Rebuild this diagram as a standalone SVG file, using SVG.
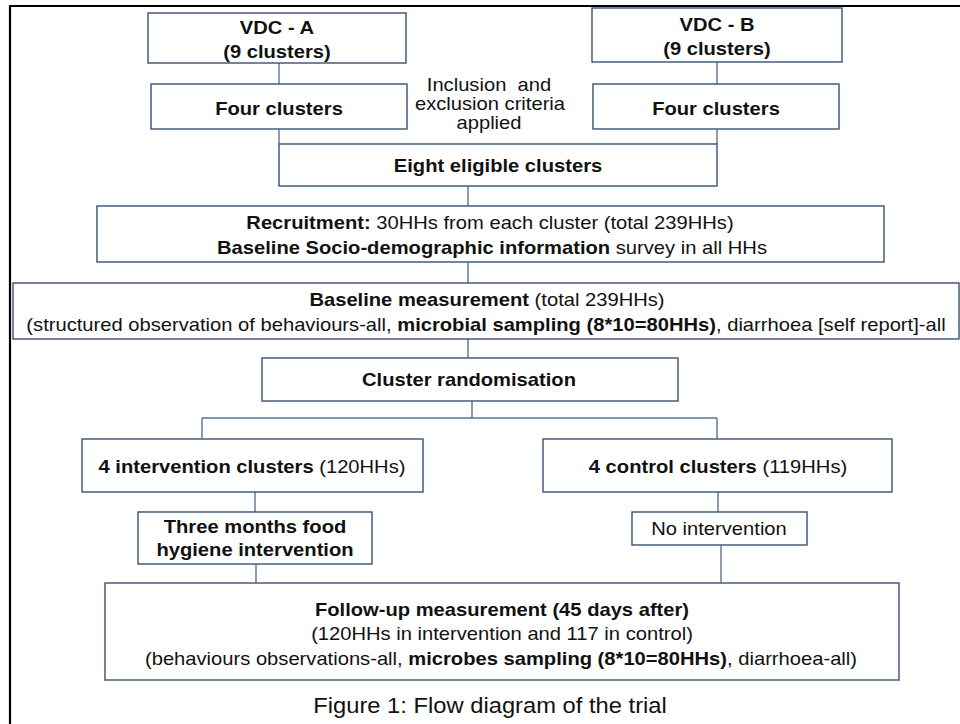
<svg xmlns="http://www.w3.org/2000/svg" width="960" height="724" viewBox="0 0 960 724">
<style>
  text { font-family: "Liberation Sans", Arial, sans-serif; font-size: 18px; fill: #111; text-anchor: middle; }
  .b { font-weight: bold; }
  .box { fill: #fff; stroke: #3a5074; stroke-width: 1.4; }
  .con { fill: none; stroke: #5d7294; stroke-width: 1.4; }
  .frame { fill: none; stroke: #000; stroke-width: 2.2; }
</style>
<rect x="0" y="0" width="960" height="724" fill="#fff"/>
<path class="frame" d="M10,724 V6 H960"/>
<g id="connectors">
  <path class="con" d="M279,63 V84"/>
  <path class="con" d="M717,62 V84"/>
  <path class="con" d="M279,129 V144"/>
  <path class="con" d="M717,129 V144"/>
  <path class="con" d="M468,186 V206"/>
  <path class="con" d="M468,262 V283"/>
  <path class="con" d="M468,339 V358"/>
  <path class="con" d="M472,401 V418 M202,418 H717 M202,418 V439 M717,418 V439"/>
  <path class="con" d="M255,492 V512"/>
  <path class="con" d="M718,492 V512"/>
  <path class="con" d="M256,564 V583"/>
  <path class="con" d="M721,545 V583"/>
</g>
<g id="vdc-a">
  <rect class="box" x="148" y="13" width="258" height="50"/>
  <text class="b" transform="matrix(1.12 0 0 1 277 34)">VDC - A</text>
  <text class="b" transform="matrix(1.12 0 0 1 277 58)">(9 clusters)</text>
</g>
<g id="vdc-b">
  <rect class="box" x="592" y="8" width="250" height="54"/>
  <text class="b" transform="matrix(1.12 0 0 1 717 31)">VDC - B</text>
  <text class="b" transform="matrix(1.12 0 0 1 717 55)">(9 clusters)</text>
</g>
<g id="four-a">
  <rect class="box" x="151" y="84" width="256" height="45"/>
  <text class="b" transform="matrix(1.12 0 0 1 279 115)">Four clusters</text>
</g>
<g id="four-b">
  <rect class="box" x="593" y="84" width="246" height="45"/>
  <text class="b" transform="matrix(1.12 0 0 1 716 115)">Four clusters</text>
</g>
<g id="criteria-label">
  <text transform="matrix(1.12 0 0 1 489 91)">Inclusion&#160; and</text>
  <text transform="matrix(1.12 0 0 1 490 110)">exclusion criteria</text>
  <text transform="matrix(1.12 0 0 1 489 129)">applied</text>
</g>
<g id="eight">
  <rect class="box" x="279" y="144" width="438" height="42"/>
  <text class="b" transform="matrix(1.12 0 0 1 498 172)">Eight eligible clusters</text>
</g>
<g id="recruitment">
  <rect class="box" x="97" y="206" width="787" height="56"/>
  <text transform="matrix(1.12 0 0 1 490 229)"><tspan class="b">Recruitment:</tspan> 30HHs from each cluster (total 239HHs)</text>
  <text transform="matrix(1.12 0 0 1 492 254)"><tspan class="b">Baseline Socio-demographic information</tspan> survey in all HHs</text>
</g>
<g id="baseline">
  <rect class="box" x="13" y="283" width="946" height="56"/>
  <text transform="matrix(1.12 0 0 1 487 306)"><tspan class="b">Baseline measurement</tspan> (total 239HHs)</text>
  <text transform="matrix(1.12 0 0 1 486 331)">(structured observation of behaviours-all, <tspan class="b">microbial sampling (8*10=80HHs)</tspan>, diarrhoea [self report]-all</text>
</g>
<g id="randomisation">
  <rect class="box" x="262" y="358" width="416" height="43"/>
  <text class="b" transform="matrix(1.12 0 0 1 469 386)">Cluster randomisation</text>
</g>
<g id="intervention">
  <rect class="box" x="82" y="439" width="341" height="53"/>
  <text transform="matrix(1.12 0 0 1 252 473)"><tspan class="b">4 intervention clusters</tspan> (120HHs)</text>
</g>
<g id="control">
  <rect class="box" x="543" y="439" width="349" height="53"/>
  <text transform="matrix(1.12 0 0 1 718 473)"><tspan class="b">4 control clusters</tspan> (119HHs)</text>
</g>
<g id="three-months">
  <rect class="box" x="138" y="512" width="234" height="52"/>
  <text class="b" transform="matrix(1.12 0 0 1 255 533)">Three months food</text>
  <text class="b" transform="matrix(1.12 0 0 1 255 556)">hygiene intervention</text>
</g>
<g id="no-intervention">
  <rect class="box" x="632" y="512" width="175" height="33"/>
  <text transform="matrix(1.12 0 0 1 719 535)">No intervention</text>
</g>
<g id="follow-up">
  <rect class="box" x="105" y="583" width="794" height="97"/>
  <text class="b" transform="matrix(1.12 0 0 1 502 616)">Follow-up measurement (45 days after)</text>
  <text transform="matrix(1.12 0 0 1 502 640)">(120HHs in intervention and 117 in control)</text>
  <text transform="matrix(1.12 0 0 1 501 665)">(behaviours observations-all, <tspan class="b">microbes sampling (8*10=80HHs)</tspan>, diarrhoea-all)</text>
</g>
<text transform="matrix(1.12 0 0 1 490 713)" style="font-size:21.2px">Figure 1: Flow diagram of the trial</text>
</svg>
